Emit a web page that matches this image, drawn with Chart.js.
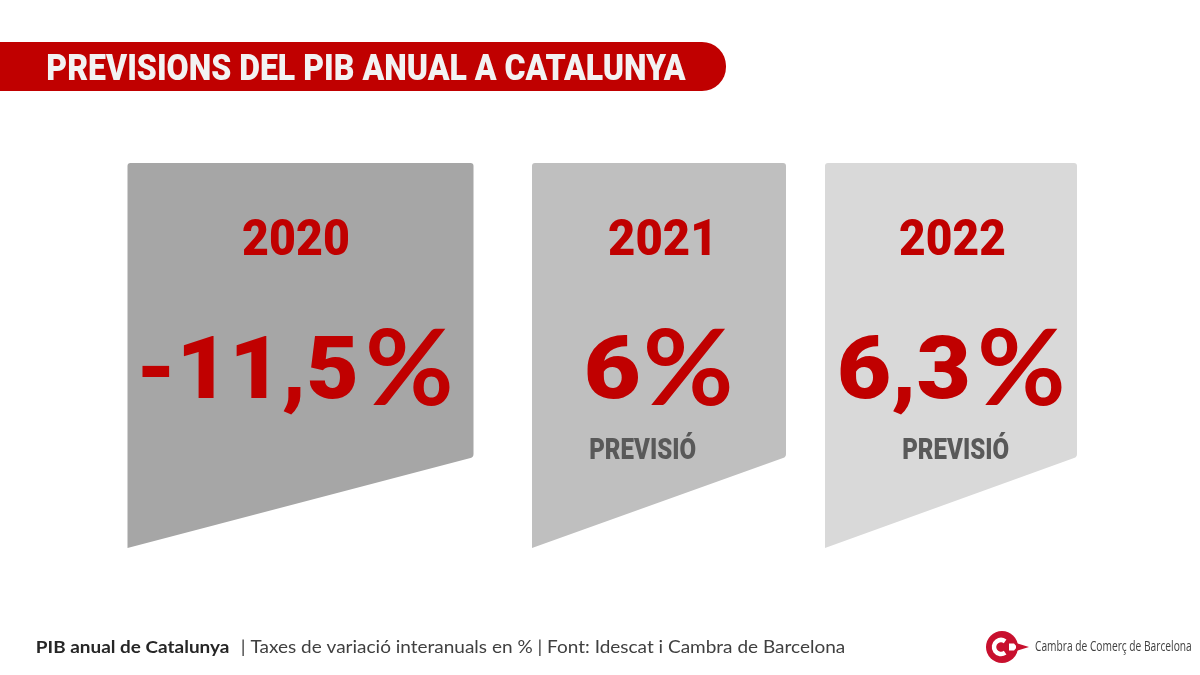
<!DOCTYPE html>
<html lang="ca">
<head>
<meta charset="utf-8">
<title>Previsions del PIB anual a Catalunya</title>
<style>html,body{margin:0;padding:0;background:#fff}canvas{display:block}</style>
<script src="https://cdn.jsdelivr.net/npm/chart.js@4"></script>
</head>
<body>
<canvas id="c" width="1200" height="675"></canvas>
<script>
const years = ['2020', '2021', '2022'];
const growth = [-11.5, 6, 6.3];
const notes = ['', 'PREVISIÓ', 'PREVISIÓ'];
const titleText = 'PREVISIONS DEL PIB ANUAL A CATALUNYA';
const footerBold = 'PIB anual de Catalunya';
const footerRest = '| Taxes de variació interanuals en % | Font: Idescat i Cambra de Barcelona';
const logoText = 'Cambra de Comerç de Barcelona';

const RED = '#C00000';
const cardFills = ['#A6A6A6', '#BFBFBF', '#D9D9D9'];
const cardBoxes = [
  { l: 127.5, r: 473.5 },
  { l: 532, r: 786 },
  { l: 825, r: 1077 }
];
const yearInk = [[243, 348], [609, 710], [900, 1004]];
const numberInk = [[142, 355], [587, 639], [840, 968]];
const percentInk = [[369, 450], [647, 730], [981, 1062]];
const noteInk = [null, [590, 696], [903, 1009]];

function fit(ctx, text, x0, x1, base, cap, family, weight, color) {
  ctx.save();
  ctx.font = weight + ' 100px ' + family;
  const h = ctx.measureText('H').actualBoundingBoxAscent;
  const size = 100 * cap / h;
  ctx.font = weight + ' ' + size + 'px ' + family;
  const m = ctx.measureText(text);
  const ink = m.actualBoundingBoxLeft + m.actualBoundingBoxRight;
  const sx = (x1 - x0) / ink;
  ctx.translate(x0 + m.actualBoundingBoxLeft * sx, base);
  ctx.scale(sx, 1);
  ctx.fillStyle = color;
  ctx.textAlign = 'left';
  ctx.textBaseline = 'alphabetic';
  ctx.fillText(text, 0, 0);
  ctx.restore();
}

function card(ctx, b, fill) {
  const top = 163, rb = 457, lb = 548, rad = 3;
  ctx.beginPath();
  ctx.moveTo(b.l, lb);
  ctx.lineTo(b.l, top + rad);
  ctx.quadraticCurveTo(b.l, top, b.l + rad, top);
  ctx.lineTo(b.r - rad, top);
  ctx.quadraticCurveTo(b.r, top, b.r, top + rad);
  ctx.lineTo(b.r, rb - rad);
  ctx.quadraticCurveTo(b.r, rb, b.r - rad, rb + 1);
  ctx.closePath();
  ctx.fillStyle = fill;
  ctx.fill();
}

const infographic = {
  id: 'infographic',
  beforeDatasetsDraw(chart) {
    const ctx = chart.ctx;
    ctx.beginPath();
    ctx.moveTo(0, 42);
    ctx.lineTo(702, 42);
    ctx.arcTo(726, 42, 726, 66, 24);
    ctx.arcTo(726, 91, 702, 91, 24);
    ctx.lineTo(0, 91);
    ctx.closePath();
    ctx.fillStyle = RED;
    ctx.fill();
    cardBoxes.forEach((b, i) => card(ctx, b, cardFills[i]));
  },
  afterDatasetsDraw(chart) {
    const ctx = chart.ctx;
    const labels = chart.data.labels;
    const vals = chart.data.datasets[0].data;
    fit(ctx, titleText, 48, 686, 79.5, 27, 'Roboto', '900', '#F2F2F2');
    labels.forEach((y, i) => {
      fit(ctx, y, yearInk[i][0], yearInk[i][1], 255, 36, 'Roboto', '900', RED);
      const num = String(vals[i]).replace('.', ',');
      fit(ctx, num, numberInk[i][0], numberInk[i][1], 398, 63, 'Roboto', '900', RED);
      fit(ctx, '%', percentInk[i][0], percentInk[i][1], 405, 77, 'Lato', 'bold', RED);
      if (notes[i]) fit(ctx, notes[i], noteInk[i][0], noteInk[i][1], 459, 21, 'Roboto', '900', '#595959');
    });
    fit(ctx, footerBold, 37, 229, 653, 12, 'Lato', 'bold', '#262626');
    fit(ctx, footerRest, 242, 845, 653, 12, 'Lato', 'normal', '#404040');
    ctx.beginPath();
    ctx.arc(1002, 647, 16, 0, Math.PI * 2);
    ctx.fillStyle = '#C8102E';
    ctx.fill();
    ctx.beginPath();
    ctx.arc(1001, 647, 7, Math.PI * 0.3, Math.PI * 1.7);
    ctx.strokeStyle = '#fff';
    ctx.lineWidth = 4.5;
    ctx.stroke();
    ctx.beginPath();
    ctx.moveTo(1009, 643.5);
    ctx.lineTo(1014, 643.5);
    ctx.lineTo(1017, 647);
    ctx.lineTo(1014, 650.5);
    ctx.lineTo(1009, 650.5);
    ctx.closePath();
    ctx.fillStyle = '#fff';
    ctx.fill();
    ctx.beginPath();
    ctx.moveTo(1016, 643);
    ctx.lineTo(1029, 647);
    ctx.lineTo(1016, 651);
    ctx.closePath();
    ctx.fillStyle = '#C8102E';
    ctx.fill();
    fit(ctx, logoText, 1035, 1191, 651, 10.5, '"Open Sans"', 'normal', '#404040');
  }
};

new Chart(document.getElementById('c'), {
  type: 'bar',
  data: {
    labels: years,
    datasets: [{ label: 'PIB anual de Catalunya (%)', data: growth, backgroundColor: 'rgba(0,0,0,0)', borderWidth: 0 }]
  },
  options: {
    responsive: false,
    animation: false,
    devicePixelRatio: 1,
    layout: { padding: 0 },
    plugins: { legend: { display: false }, title: { display: false }, tooltip: { enabled: false } },
    scales: { x: { display: false }, y: { display: false } }
  },
  plugins: [infographic]
});
</script>
</body>
</html>
